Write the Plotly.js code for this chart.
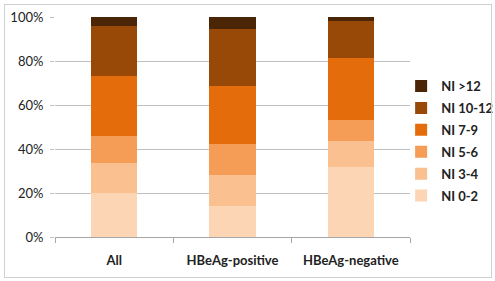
<!DOCTYPE html>
<html>
<head>
<meta charset="utf-8">
<script src="https://cdn.plot.ly/plotly-3.0.1.min.js"></script>
<style>
html,body{margin:0;padding:0;background:#fff;}
#wrap{position:relative;width:495px;height:281px;}
#chart{position:absolute;left:0;top:0;width:495px;height:281px;}
#frame{position:absolute;left:4px;top:4px;width:486px;height:272px;border:1px solid #d0d0d0;pointer-events:none;}
</style>
</head>
<body>
<div id="wrap"><div id="chart"></div><div id="frame"></div></div>
<script>
var categories = ["All", "HBeAg-positive", "HBeAg-negative"];
var seriesNames = ["NI 0-2", "NI 3-4", "NI 5-6", "NI 7-9", "NI 10-12", "NI >12"];
var ni_0_2   = [20.1, 14.1, 31.9];
var ni_3_4   = [13.5, 14.0, 11.8];
var ni_5_6   = [12.2, 14.1, 9.4];
var ni_7_9   = [27.3, 26.6, 28.4];
var ni_10_12 = [22.7, 25.6, 16.7];
var ni_gt12  = [4.2, 5.6, 1.8];
var yTicks = [0, 20, 40, 60, 80, 100];
var yTickLabels = ["0%", "20%", "40%", "60%", "80%", "100%"];

var colors = ["#FCD5B5", "#FAC090", "#F59D56", "#E46C0A", "#984807", "#4A2506"];
var values = [ni_0_2, ni_3_4, ni_5_6, ni_7_9, ni_10_12, ni_gt12];

var traces = values.map(function (v, i) {
  return {
    type: "bar",
    name: seriesNames[i],
    legendgroup: "g" + i,
    legendrank: (values.length - i) * 100,
    x: categories,
    y: v,
    marker: {color: colors[i], line: {width: 0}},
    hoverinfo: "none"
  };
});

var layout = {
  width: 495,
  height: 281,
  barmode: "stack",
  bargap: 0.61,
  margin: {l: 55, r: 85, t: 17, b: 44, autoexpand: false},
  paper_bgcolor: "#ffffff",
  plot_bgcolor: "#ffffff",
  font: {family: "Lato, 'Open Sans', sans-serif", size: 13, color: "#222222"},
  showlegend: true,
  legend: {
    traceorder: "grouped",
    tracegroupgap: 2,
    x: 0.975, xanchor: "left",
    y: 0.436, yanchor: "middle",
    font: {family: "Lato, sans-serif", size: 13, color: "#222222", weight: "bold"},
    bgcolor: "rgba(0,0,0,0)"
  },
  xaxis: {
    type: "category",
    showgrid: false,
    showline: true,
    linecolor: "#a6a6a6",
    linewidth: 1,
    ticks: "outside",
    tickson: "boundaries",
    ticklen: 5,
    tickcolor: "#a6a6a6",
    tickangle: 0,
    ticklabelstandoff: 11,
    tickfont: {family: "Lato, sans-serif", size: 13, color: "#222222", weight: "bold"},
    fixedrange: true
  },
  yaxis: {
    range: [0, 100],
    tickvals: yTicks,
    ticktext: yTickLabels,
    showgrid: true,
    gridcolor: "#c0c0c0",
    gridwidth: 1,
    zeroline: false,
    showline: false,
    ticks: "outside",
    ticklen: 4,
    tickcolor: "#c0c0c0",
    ticklabelstandoff: 4,
    tickfont: {family: "Lato, sans-serif", size: 13, color: "#222222"},
    fixedrange: true
  }
};

Plotly.newPlot("chart", traces, layout, {displayModeBar: false, staticPlot: true});
</script>
</body>
</html>
